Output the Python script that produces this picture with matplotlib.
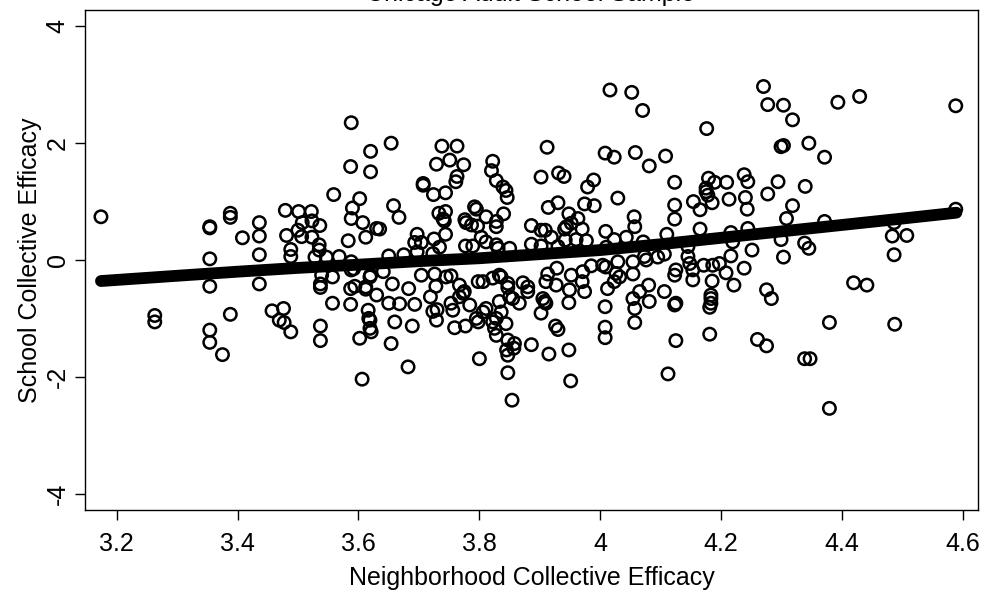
import numpy as np
import matplotlib
matplotlib.use('Agg')
import matplotlib.pyplot as plt

plt.rcParams['font.family'] = ['Liberation Sans', 'DejaVu Sans']

# neighborhood collective efficacy (x) vs school collective efficacy (y)
nce = [
    3.174, 3.588, 3.620, 3.587, 3.620, 3.559, 3.602, 3.590, 3.588, 3.607, 3.612, 3.583, 3.630,
    3.354, 3.354, 3.388, 3.388, 3.408, 3.436, 3.436, 3.436, 3.436, 3.354, 3.354, 3.479, 3.501,
    3.522, 3.481, 3.500, 3.506, 3.507, 3.523, 3.536, 3.523, 3.488, 3.488, 3.535, 3.535, 3.528,
    3.547, 3.568, 3.539, 3.537, 3.537, 3.557, 3.588, 3.592, 3.587, 3.594, 3.612, 3.612, 3.619,
    3.620,
    3.263, 3.263, 3.388, 3.354, 3.354, 3.375, 3.457, 3.476, 3.469, 3.477, 3.488, 3.537, 3.537,
    3.557, 3.587, 3.616, 3.619, 3.617, 3.619, 3.621, 3.602, 3.606, 3.630, 3.588,
    3.654, 3.738, 3.763, 3.751, 3.729, 3.774, 3.763, 3.761, 3.707, 3.707, 3.724, 3.744, 3.658,
    3.667, 3.635, 3.697, 3.693, 3.704, 3.697, 3.725, 3.733, 3.744, 3.740, 3.742, 3.744, 3.734,
    3.723, 3.650, 3.675, 3.776, 3.778, 3.787, 3.777, 3.792, 3.795, 3.811, 3.797, 3.803, 3.811,
    3.789, 3.822, 3.820, 3.828, 3.839, 3.844, 3.846, 3.840, 3.828, 3.828, 3.828, 3.831, 3.850,
    3.902, 3.912, 3.931, 3.940, 3.914, 3.930, 3.886, 3.902, 3.909, 3.886, 3.902, 3.919, 3.941,
    3.944, 3.948, 3.963, 3.952, 3.970, 3.960, 3.977, 3.942, 3.930, 3.974, 3.990, 3.979, 3.989,
    4.008, 4.023, 4.016, 4.052, 4.070, 4.058, 4.081, 4.108, 4.123, 4.029, 4.056, 4.057, 4.009,
    4.023, 4.043, 4.071, 4.110, 4.123, 4.123, 4.010, 3.985, 4.004, 4.009, 4.029, 4.054, 4.073,
    4.076, 4.095, 4.106, 3.928, 3.913, 3.910, 3.952, 3.971, 3.949, 3.970, 3.974, 4.012, 4.026,
    4.032, 4.054, 4.080, 4.065, 4.106, 4.123, 3.641, 3.656, 3.683, 3.704, 3.726, 3.745, 3.753,
    3.767, 3.775, 3.806, 3.822, 3.833, 3.836, 3.847, 3.847, 3.872, 3.880, 3.728,
    3.650, 3.668, 3.693, 3.660, 3.689, 3.654, 3.682, 3.719, 3.723, 3.730, 3.729, 3.753, 3.756,
    3.767, 3.773, 3.784, 3.759, 3.777, 3.798, 3.795, 3.798, 3.806, 3.811, 3.800, 3.822, 3.828,
    3.825, 3.828, 3.833, 3.836, 3.844, 3.850, 3.855, 3.866, 3.880, 3.847, 3.858, 3.845, 3.847,
    3.857, 3.847, 3.854, 3.886, 3.905, 3.908, 3.910, 3.902, 3.927, 3.926, 3.930, 3.915, 3.948,
    3.951, 3.948, 4.008, 4.008, 4.008, 4.023, 4.054, 4.057, 4.057, 4.081, 4.123, 4.125, 4.125,
    4.112, 4.125,
    4.270, 4.277, 4.303, 4.318, 4.299, 4.303, 4.345, 4.371, 4.393, 4.429, 4.588, 4.176, 4.179,
    4.189, 4.209, 4.238, 4.244, 4.175, 4.175, 4.178, 4.185, 4.154, 4.165, 4.213, 4.240, 4.243,
    4.277, 4.294, 4.339, 4.318, 4.308, 4.371, 4.486, 4.483, 4.507, 4.486, 4.588, 4.165, 4.216,
    4.219, 4.244, 4.299, 4.303, 4.338, 4.345, 4.251, 4.216, 4.145, 4.145, 4.148, 4.171, 4.186,
    4.197, 4.153, 4.153, 4.185, 4.208, 4.238, 4.221, 4.183, 4.183, 4.275, 4.283, 4.419, 4.441,
    4.183, 4.181, 4.181, 4.260, 4.275, 4.338, 4.347, 4.379, 4.379, 4.487,
]
sce = [
    0.74, 2.35, 1.86, 1.60, 1.51, 1.12, 1.05, 0.89, 0.71, 0.64, 0.39, 0.33, 0.54,
    0.55, 0.57, 0.80, 0.73, 0.38, 0.64, 0.41, 0.09, -0.41, 0.02, -0.45, 0.85, 0.83,
    0.83, 0.42, 0.51, 0.40, 0.64, 0.67, 0.59, 0.39, 0.18, 0.06, 0.26, 0.17, 0.05,
    0.05, 0.06, -0.26, -0.41, -0.47, -0.29, -0.17, -0.15, -0.49, -0.45, -0.46, -0.50, -0.29,
    -0.26,
    -0.95, -1.06, -0.93, -1.20, -1.41, -1.62, -0.87, -0.83, -1.03, -1.07, -1.23, -1.13, -1.38,
    -0.74, -0.76, -0.86, -1.03, -1.00, -1.17, -1.23, -1.34, -2.04, -0.60, -0.03,
    2.00, 1.95, 1.95, 1.71, 1.64, 1.63, 1.43, 1.34, 1.31, 1.28, 1.12, 1.15, 0.93,
    0.73, 0.53, 0.44, 0.30, 0.30, 0.14, 0.36, 0.80, 0.83, 0.70, 0.67, 0.44, 0.22,
    0.11, 0.07, 0.09, 0.69, 0.64, 0.60, 0.24, 0.91, 0.87, 0.74, 0.58, 0.39, 0.31,
    0.24, 1.69, 1.53, 1.36, 1.25, 1.19, 1.07, 0.79, 0.66, 0.57, 0.26, 0.20, 0.20,
    1.42, 1.93, 1.49, 1.43, 0.90, 0.98, 0.59, 0.51, 0.51, 0.27, 0.24, 0.39, 0.53,
    0.57, 0.79, 0.71, 0.63, 0.53, 0.35, 0.33, 0.34, 0.23, 0.96, 0.93, 1.25, 1.37,
    1.83, 1.76, 2.91, 2.87, 2.56, 1.84, 1.61, 1.78, 1.33, 1.06, 0.74, 0.57, 0.49,
    0.35, 0.39, 0.31, 0.44, 0.94, 0.70, 0.22, -0.10, -0.09, -0.12, -0.03, -0.03, 0.06,
    0.00, 0.05, 0.10, -0.14, -0.24, -0.37, -0.26, -0.20, -0.51, -0.37, -0.54, -0.49, -0.23,
    -0.29, -0.24, -0.43, -0.54, -0.54, -0.26, -0.20, -0.41, -0.49, -0.26, -0.24, -0.29, -0.27,
    -0.43, -0.54, -0.37, -0.31, -0.26, -0.29, -0.40, -0.47, -0.39, -0.46, -0.45,
    -0.74, -0.75, -0.76, -1.06, -1.13, -1.43, -1.83, -0.63, -0.88, -0.85, -1.03, -0.74, -0.86,
    -0.63, -0.57, -0.77, -1.16, -1.13, -0.37, -1.00, -1.06, -0.89, -0.83, -1.69, -1.06, -1.00,
    -1.17, -1.29, -0.71, -0.89, -1.09, -0.63, -0.66, -0.74, -0.54, -1.37, -1.43, -1.54, -1.63,
    -1.51, -1.93, -2.40, -1.45, -0.66, -0.71, -0.74, -0.91, -0.43, -1.13, -1.19, -1.61, -1.54,
    -2.07, -0.73, -0.80, -1.15, -1.33, -0.37, -0.66, -0.83, -1.07, -0.71, -0.77, -0.74, -1.38,
    -1.95, -0.17,
    2.97, 2.66, 2.65, 2.40, 1.94, 1.96, 2.00, 1.76, 2.70, 2.80, 2.64, 2.25, 1.40,
    1.33, 1.33, 1.46, 1.34, 1.23, 1.17, 1.11, 0.98, 1.00, 0.86, 1.04, 1.07, 0.87,
    1.13, 1.34, 1.26, 0.93, 0.71, 0.66, 0.64, 0.41, 0.42, 0.09, 0.87, 0.53, 0.47,
    0.31, 0.54, 0.35, 0.05, 0.29, 0.20, 0.17, 0.07, 0.23, 0.06, -0.06, -0.09, -0.09,
    -0.06, -0.17, -0.34, -0.36, -0.22, -0.14, -0.43, -0.60, -0.66, -0.51, -0.66, -0.39, -0.43,
    -0.74, -0.81, -1.27, -1.36, -1.47, -1.69, -1.69, -1.07, -2.54, -1.10,
]

# smoothed fit
fit_x = [3.174, 3.3, 3.4, 3.5, 3.6, 3.7, 3.8, 3.9, 4.0, 4.1, 4.2, 4.3, 4.4, 4.5, 4.589]
fit_y = [-0.36, -0.27, -0.20, -0.135, -0.08, -0.02, 0.03, 0.10, 0.17, 0.27, 0.38, 0.49, 0.60, 0.71, 0.81]

x_ticks = [3.2, 3.4, 3.6, 3.8, 4.0, 4.2, 4.4, 4.6]
x_labels = ['3.2', '3.4', '3.6', '3.8', '4', '4.2', '4.4', '4.6']
y_ticks = [-4, -2, 0, 2, 4]

fig = plt.figure(figsize=(9.82, 5.92), dpi=100)
ax = fig.add_axes([85 / 982, 1 - 510 / 592, 893 / 982, 500 / 592])

ax.scatter(nce, sce, s=80, facecolors='none', edgecolors='black', linewidths=1.8, zorder=2)
ax.plot(fit_x, fit_y, color='black', lw=8.5, solid_capstyle='round', zorder=3)

ax.set_xlim(3.1476, 4.6248)
ax.set_ylim(-4.28, 4.28)
ax.set_xticks(x_ticks)
ax.set_xticklabels(x_labels)
ax.set_yticks(y_ticks)
ax.set_yticklabels([str(v) for v in y_ticks], rotation=90, va='center')
ax.tick_params(direction='out', length=7, width=1, labelsize=18)
ax.tick_params(axis='x', pad=9)
ax.tick_params(axis='y', pad=4)
for sp in ax.spines.values():
    sp.set_linewidth(1.0)

ax.set_xlabel('Neighborhood Collective Efficacy', fontsize=18, labelpad=7)
ax.set_ylabel('School Collective Efficacy', fontsize=18, labelpad=3)

fig.text(531 / 982, 1 - 1.5 / 592, 'Chicago Adult School Sample', ha='center', va='baseline', fontsize=18)

fig.savefig('out.png', dpi=100)
